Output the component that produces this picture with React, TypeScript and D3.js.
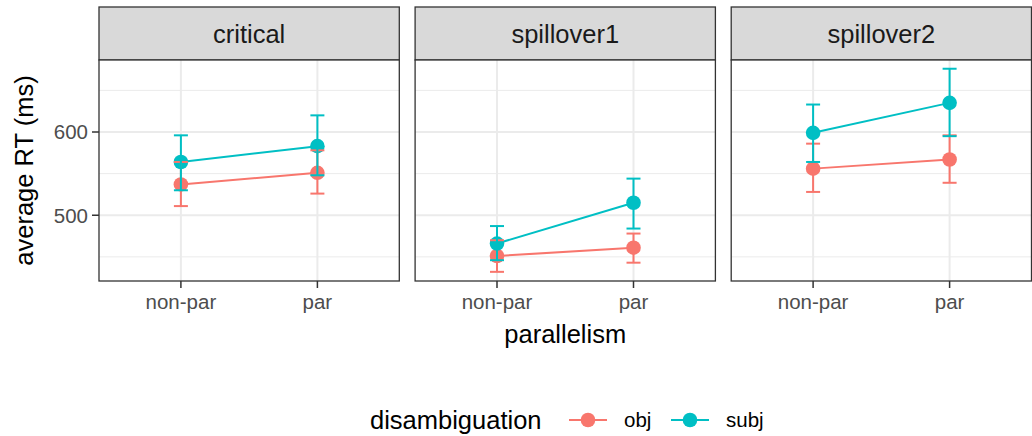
import React from "react";
import * as d3 from "d3";

// Facets, conditions and groups
const regions = ["critical", "spillover1", "spillover2"];
const parallelism = ["non-par", "par"];
const groups = ["obj", "subj"];
const groupColors = ["#F8766D", "#00BFC4"];
const yTicks = [500, 600];
const yMinor = [450, 550, 650];

// Mean RT and error-bar bounds per region, [non-par, par]
const objMean = [[537, 551], [451, 461], [556, 567]];
const objLow = [[511, 526], [432, 443], [528, 539]];
const objHigh = [[564, 578], [470, 478], [586, 596]];
const subjMean = [[564, 583], [466, 515], [599, 635]];
const subjLow = [[530, 548], [446, 484], [564, 595]];
const subjHigh = [[596, 620], [487, 544], [633, 676]];

const W = 1032;
const H = 436;
const FONT = "'Liberation Sans', Arial, Helvetica, sans-serif";
const panelTop = 60;
const panelBottom = 281;
const stripTop = 7;

export default function App() {
  const facet = d3.scaleBand<string>().domain(regions).range([99, 1031.5]).paddingInner(0.05);
  const y = d3.scaleLinear().domain([421, 686.5]).range([panelBottom, panelTop]);
  const bw = facet.bandwidth();
  const x = d3.scalePoint<string>().domain(parallelism).range([0, bw]).padding(0.6);

  const series = [
    { mean: objMean, low: objLow, high: objHigh },
    { mean: subjMean, low: subjLow, high: subjHigh },
  ];

  const line = d3
    .line<[number, number]>()
    .x((d) => d[0])
    .y((d) => d[1]);

  return (
    <svg width={W} height={H} style={{ display: "block", position: "absolute", left: 0, top: 0 }} fontFamily={FONT}>
      <rect width={W} height={H} fill="#fff" />
      {regions.map((r, ri) => {
        const x0 = facet(r)!;
        return (
          <g key={r} transform={`translate(${x0},0)`}>
            {/* strip */}
            <rect x={0} y={stripTop} width={bw} height={panelTop - stripTop} fill="#D9D9D9" stroke="#333333" strokeWidth={1.3} />
            <text x={bw / 2} y={(stripTop + panelTop) / 2} dy="0.36em" textAnchor="middle" fontSize={25.5} fill="#1A1A1A">
              {r}
            </text>
            {/* grid */}
            <rect x={0} y={panelTop} width={bw} height={panelBottom - panelTop} fill="#fff" />
            {yMinor.map((v) => (
              <line key={"m" + v} x1={0} x2={bw} y1={y(v)} y2={y(v)} stroke="#EBEBEB" strokeWidth={1} />
            ))}
            {yTicks.map((v) => (
              <line key={"M" + v} x1={0} x2={bw} y1={y(v)} y2={y(v)} stroke="#EBEBEB" strokeWidth={2} />
            ))}
            {parallelism.map((p) => (
              <line key={p} x1={x(p)} x2={x(p)} y1={panelTop} y2={panelBottom} stroke="#EBEBEB" strokeWidth={2} />
            ))}
            {/* lines */}
            {series.map((s, gi) => (
              <path
                key={"l" + gi}
                d={line(parallelism.map((p, pi) => [x(p)!, y(s.mean[ri][pi])]))!}
                fill="none"
                stroke={groupColors[gi]}
                strokeWidth={2}
              />
            ))}
            {/* points */}
            {series.map((s, gi) =>
              parallelism.map((p, pi) => (
                <circle key={"p" + gi + p} cx={x(p)} cy={y(s.mean[ri][pi])} r={7.3} fill={groupColors[gi]} />
              ))
            )}
            {/* error bars */}
            {series.map((s, gi) =>
              parallelism.map((p, pi) => {
                const cx = x(p)!;
                const lo = y(s.low[ri][pi]);
                const hi = y(s.high[ri][pi]);
                return (
                  <g key={"e" + gi + p} stroke={groupColors[gi]} strokeWidth={2} fill="none">
                    <line x1={cx} x2={cx} y1={lo} y2={hi} />
                    <line x1={cx - 7} x2={cx + 7} y1={lo} y2={lo} />
                    <line x1={cx - 7} x2={cx + 7} y1={hi} y2={hi} />
                  </g>
                );
              })
            )}
            {/* panel border */}
            <rect x={0} y={panelTop} width={bw} height={panelBottom - panelTop} fill="none" stroke="#333333" strokeWidth={1.3} />
            {/* x ticks */}
            {parallelism.map((p) => (
              <g key={"t" + p}>
                <line x1={x(p)} x2={x(p)} y1={panelBottom} y2={panelBottom + 7} stroke="#333333" strokeWidth={1.5} />
                <text x={x(p)} y={309} textAnchor="middle" fontSize={20.5} fill="#4D4D4D">
                  {p}
                </text>
              </g>
            ))}
          </g>
        );
      })}
      {/* y axis */}
      {yTicks.map((v) => (
        <g key={"y" + v}>
          <line x1={92} x2={99} y1={y(v)} y2={y(v)} stroke="#333333" strokeWidth={1.5} />
          <text x={88} y={y(v)} dy="0.36em" textAnchor="end" fontSize={20.5} fill="#4D4D4D">
            {v}
          </text>
        </g>
      ))}
      <text
        transform={`translate(33,${(panelTop + panelBottom) / 2}) rotate(-90)`}
        textAnchor="middle"
        fontSize={25.5}
        fill="#000"
      >
        average RT (ms)
      </text>
      <text x={(99 + 1031.5) / 2} y={343} textAnchor="middle" fontSize={25.5} fill="#000">
        parallelism
      </text>
      {/* legend */}
      <text x={370} y={429} fontSize={25.5} fill="#000">
        disambiguation
      </text>
      {groups.map((g, gi) => {
        const lx = [569, 671][gi];
        return (
          <g key={g}>
            <line x1={lx} x2={lx + 38} y1={420} y2={420} stroke={groupColors[gi]} strokeWidth={2} />
            <circle cx={lx + 19} cy={420} r={7.3} fill={groupColors[gi]} />
            <text x={lx + 55} y={427} fontSize={20.5} fill="#000">
              {g}
            </text>
          </g>
        );
      })}
    </svg>
  );
}
